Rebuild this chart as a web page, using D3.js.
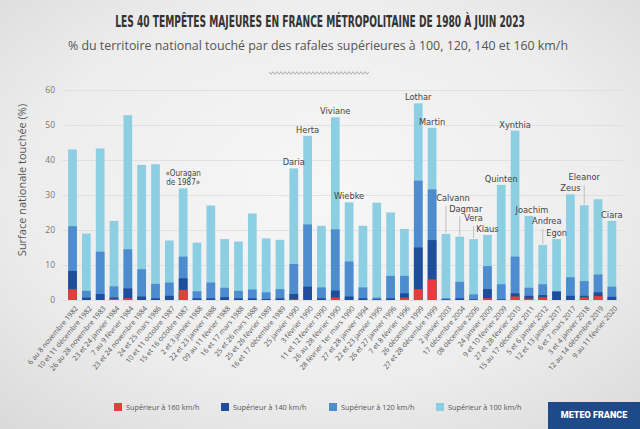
<!DOCTYPE html>
<html><head><meta charset="utf-8">
<script src="https://cdn.jsdelivr.net/npm/d3@7/dist/d3.min.js"></script>
<style>
html,body{margin:0;padding:0;}
body{width:640px;height:429px;overflow:hidden;}
svg{display:block;}
.cond{font-family:"Liberation Sans Narrow","DejaVu Sans Condensed","Roboto",sans-serif;}
</style></head>
<body><svg id="c" width="640" height="429"></svg>
<script>
// ---------- DATA ----------
const dates = [
 "6 au 8 novembre 1982","10 et 11 décembre 1982","26 au 28 novembre 1983","23 et 24 janvier 1984",
 "7 au 9 février 1984","23 et 24 novembre 1984","24 et 25 mars 1986","10 et 11 octobre 1987",
 "15 et 16 octobre 1987","2 et 3 janvier 1988","22 et 23 janvier 1988","09 au 11 février 1988",
 "16 et 17 mars 1988","25 et 26 mars 1988","25 et 26 février 1989","16 et 17 décembre 1989",
 "25 janvier 1990","3 février 1990","11 et 12 février 1990","26 au 28 février 1990",
 "28 février 1er mars 1990","27 et 28 janvier 1994","22 et 23 janvier 1995","26 et 27 janvier 1996",
 "7 et 8 février 1996","26 décembre 1999","27 et 28 décembre 1999","2 janvier 2003",
 "17 décembre 2004","08 décembre 2006","24 janvier 2009","9 et 10 février 2009",
 "27 et 28 février 2010","15 au 17 décembre 2011","5 et 6 janvier 2012","12 et 13 janvier 2017",
 "6 et 7 mars 2017","3 et 4 janvier 2018","12 au 14 décembre 2019","9 au 11 février 2020"
];
const sup100 = [43.0,19.0,43.3,22.6,52.8,38.6,38.8,17.0,31.9,16.4,
                27.0,17.4,16.7,24.7,17.6,17.2,37.6,46.9,21.2,52.2,
                27.9,21.2,27.8,25.0,20.3,56.2,49.2,18.9,18.1,17.4,
                18.6,32.9,48.4,24.0,15.7,17.4,30.2,27.1,28.8,22.6];
const sup120 = [21.1,2.6,13.8,3.9,14.5,8.8,4.6,5.0,12.4,2.5,
                5.0,3.5,2.6,3.0,2.2,3.1,10.3,21.6,3.6,20.2,
                11.0,3.6,0.7,6.9,6.9,34.1,31.6,0.5,5.2,1.6,
                9.7,4.5,12.4,3.5,4.5,2.5,6.5,5.4,7.3,3.8];
const sup140 = [8.3,0.7,1.7,0.7,3.3,1.0,0.5,1.2,6.2,0.5,
                0.5,0.8,0.5,0.5,0.3,0.5,1.7,3.8,0.5,2.7,
                1.0,0.5,0.2,0.5,1.9,15.0,17.1,0.2,0.5,0.2,
                3.1,0.2,1.9,1.2,1.4,2.4,1.2,1.2,2.2,0.9];
const sup160 = [3.1,0,0,0.3,0.5,0,0,0,2.9,0,
                0,0,0,0,0,0,0.2,0,0,0.7,
                0,0,0,0,0.7,3.1,5.9,0,0,0,
                0.5,0,1.0,0.4,0.8,0,0,0.8,1.1,0];
const seriesNames = ["Supérieur à 160 km/h","Supérieur à 140 km/h","Supérieur à 120 km/h","Supérieur à 100 km/h"];
const yTicks = [0,10,20,30,40,50,60];
const stormIdx   = [8,16,17,19,20,25,26,27,28,29,30,31,32,33,34,35,36,37,39];
const stormNames = ["«Ouragan|de 1987»","Daria","Herta","Viviane","Wiebke","Lothar","Martin","Calvann","Dagmar","Vera",
                    "Klaus","Quinten","Xynthia","Joachim","Andrea","Egon","Zeus","Eleanor","Ciara"];
const titleText = "LES 40 TEMPÊTES MAJEURES EN FRANCE MÉTROPOLITAINE DE 1980 À JUIN 2023";
const subtitleText = "% du territoire national touché par des rafales supérieures à 100, 120, 140 et 160 km/h";
const yTitle = "Surface nationale touchée (%)";

// ---------- STYLE / LAYOUT ----------
const colors = {s160:"#e63c3a", s140:"#1d4d9b", s120:"#4d8ccf", s100:"#8dcfe2"};
const svg = d3.select("#c");
const W=640,H=429;
const defs = svg.append("defs");
const rg = defs.append("radialGradient").attr("id","bg").attr("cx","50%").attr("cy","45%").attr("r","75%");
rg.append("stop").attr("offset","0%").attr("stop-color","#f7f7f7");
rg.append("stop").attr("offset","60%").attr("stop-color","#ededed");
rg.append("stop").attr("offset","100%").attr("stop-color","#d9d9d9");
svg.append("rect").attr("width",W).attr("height",H).attr("fill","url(#bg)");

const x = d3.scaleBand().domain(dates).range([65.6, 65.6+40*13.83]).paddingInner(0.37).paddingOuter(0.185);
const y = d3.scaleLinear().domain([0,60]).range([300,90]);
const gridRight = 623, gridLeft = 62;

// title: fit to ~410px by measuring natural width, then stretch vertically
const title = svg.append("text").attr("class","cond").attr("text-anchor","middle")
  .attr("font-size",14).attr("font-weight","bold").attr("fill","#333").text(titleText);
const natural = title.node().getComputedTextLength() || 410;
const sx = 410/natural;
title.attr("transform",`translate(320,27) scale(${sx},${Math.max(1.12, sx*1.12)})`);

svg.append("text").attr("x",318).attr("y",50).attr("text-anchor","middle")
  .attr("font-family","Open Sans, sans-serif").attr("font-size",12.5).attr("fill","#555")
  .attr("textLength",500).attr("lengthAdjust","spacingAndGlyphs").text(subtitleText);
// decorative zigzag
const zz = d3.range(0,101,2).map((d,i)=>[269+d, 73 + (i%2?1.3:-1.3)]);
svg.append("path").attr("d",d3.line()(zz)).attr("fill","none").attr("stroke","#9a9a9a").attr("stroke-width",0.8);

// grid + y axis
const gy = svg.append("g").attr("transform",`translate(${gridLeft},0)`)
  .call(d3.axisLeft(y).tickValues(yTicks).tickSize(-(gridRight-gridLeft)).tickPadding(7));
gy.select(".domain").remove();
gy.selectAll(".tick line").attr("stroke","#dcdcdc").attr("stroke-width",0.8);
gy.selectAll(".tick text").attr("font-family","Open Sans, sans-serif").attr("font-size",8.5).attr("fill","#777");

svg.append("text").attr("transform","translate(26,180) rotate(-90)").attr("text-anchor","middle")
  .attr("font-family","Open Sans, sans-serif").attr("font-size",11).attr("fill","#555").text(yTitle);

// bars (overlapping cumulative thresholds)
const layers = [[sup100,colors.s100],[sup120,colors.s120],[sup140,colors.s140],[sup160,colors.s160]];
layers.forEach(([vals,col])=>{
  svg.append("g").selectAll("rect").data(dates).join("rect")
    .attr("x",d=>x(d)).attr("width",x.bandwidth())
    .attr("y",(d,i)=>y(vals[i])).attr("height",(d,i)=>y(0)-y(vals[i]))
    .attr("fill",col);
});

// x axis labels
const gx = svg.append("g").attr("transform","translate(0,300)")
  .call(d3.axisBottom(x).tickSize(0).tickPadding(0));
gx.select(".domain").remove();
gx.selectAll(".tick text").attr("font-family","Open Sans, sans-serif").attr("font-size",7.1).attr("fill","#555")
  .attr("text-anchor","end").attr("transform","translate(4,7) rotate(-50)").attr("dy","0.35em");

// storm name annotations
const lift = {"Calvann":30,"Dagmar":22,"Vera":15,"Andrea":18,"Eleanor":22};
const shift = {"Calvann":7,"Dagmar":6,"Joachim":3,"Andrea":4};
stormIdx.forEach((idx,k)=>{
  const name = stormNames[k];
  const cx = x(dates[idx]) + x.bandwidth()/2;
  const top = y(sup100[idx]);
  const L = lift[name]||0;
  const bx = cx + (shift[name]||0);
  if(L){
    svg.append("line").attr("x1",cx).attr("x2",cx).attr("y1",top-L+2).attr("y2",top-1)
      .attr("stroke","#aaa").attr("stroke-width",0.7);
  }
  const lines = name.split("|");
  lines.forEach((t,j)=>{
    svg.append("text").attr("class","cond").attr("x",bx).attr("y",top-3-L-(lines.length-1-j)*9)
      .attr("text-anchor","middle").attr("font-size",lines.length>1?8:9.2).attr("fill","#444").text(t);
  });
});

// legend
const legX = [114,221,329,436];
const legCols = [colors.s160,colors.s140,colors.s120,colors.s100];
seriesNames.forEach((n,i)=>{
  svg.append("rect").attr("x",legX[i]).attr("y",403).attr("width",8).attr("height",8).attr("fill",legCols[i]);
  svg.append("text").attr("x",legX[i]+12).attr("y",410).attr("font-family","Open Sans, sans-serif")
    .attr("font-size",7.3).attr("fill","#555").text(n);
});

// logo box
svg.append("rect").attr("x",548).attr("y",402).attr("width",92).attr("height",27).attr("fill","#1f4a8a");
svg.append("text").attr("x",594).attr("y",418).attr("text-anchor","middle").attr("font-family","Roboto, sans-serif")
  .attr("font-weight","900").attr("font-size",9).attr("fill","#fff").text("METEO FRANCE");
</script></body></html>
